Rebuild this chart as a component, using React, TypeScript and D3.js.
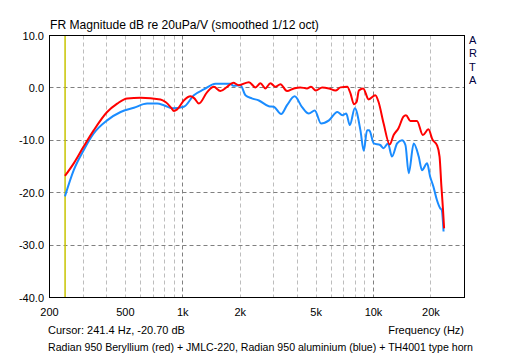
import React from "react";
import * as d3 from "d3";

const yTicks = [10, 0, -10, -20, -30, -40];
const xLabelFreqs = [200, 500, 1000, 2000, 5000, 10000, 20000];
const xLabelTexts = ["200", "500", "1k", "2k", "5k", "10k", "20k"];
const minorGrid = [300, 400, 500, 600, 700, 800, 900, 2000, 3000, 4000, 5000, 6000, 7000, 8000, 9000, 20000];
const majorGrid = [1000, 10000];
const hGrid = [0, -10, -20, -30];
const cursorFreq = 241.4;

const redFreq = [241, 268, 302, 341, 401, 453, 511, 600, 764, 812, 870, 898, 934, 1012, 1098, 1150, 1214, 1342, 1454, 1574, 1708, 1838, 1966, 2222, 2404, 2553, 2710, 2880, 3060, 3250, 3520, 3820, 4130, 4480, 4700, 4980, 5380, 5840, 6320, 6720, 7280, 7580, 7890, 8150, 8380, 8830, 9430, 10220, 10630, 11300, 12160, 12750, 13520, 14350, 14800, 15600, 16900, 18150, 19400, 20400, 21500, 22200, 22700, 23150, 23450];
const redDb = [-16.8, -14.4, -11.2, -8.1, -4.6, -3.0, -2.0, -1.9, -2.2, -2.7, -3.8, -4.4, -4.1, -2.4, -1.6, -2.0, -3.0, -0.8, 0.2, -0.6, 0.2, 1.0, 0.5, 1.1, 0.1, 0.9, -0.1, 0.9, 0.2, 0.7, -0.6, -0.1, 0.1, -0.1, 0.2, -0.5, 0.1, -0.1, -0.5, 0.1, 0.2, -1.1, -3.1, -2.7, -0.5, -0.1, -2.2, -1.4, -2.7, -6.8, -10.8, -9.0, -7.7, -5.5, -5.2, -6.3, -6.3, -9.0, -7.9, -9.9, -10.9, -13.1, -18.8, -23.3, -26.8];

const blueFreq = [241, 268, 302, 341, 401, 472, 554, 650, 734, 795, 880, 1012, 1143, 1288, 1484, 1778, 1838, 2007, 2130, 2300, 2506, 2825, 3000, 3280, 3520, 3860, 4210, 4580, 4920, 5310, 5840, 6460, 6860, 7200, 7510, 7980, 8540, 8890, 9250, 9500, 10040, 10840, 11300, 11900, 12500, 13300, 14100, 14700, 15300, 16250, 17260, 17960, 19100, 19800, 20600, 21500, 22400, 22800, 23300];
const blueDb = [-20.7, -15.7, -11.9, -8.7, -6.2, -4.6, -3.8, -3.0, -3.0, -3.3, -3.9, -3.6, -1.4, -0.3, 0.8, 0.8, 0.4, 0.5, -1.4, -2.0, -2.4, -3.5, -3.6, -5.0, -3.3, -1.6, -3.6, -4.9, -4.3, -6.8, -6.2, -4.6, -5.2, -4.9, -7.1, -3.9, -8.1, -12.0, -8.1, -8.1, -10.6, -10.9, -11.5, -10.6, -13.1, -10.6, -10.0, -10.9, -16.3, -10.6, -13.1, -15.7, -14.4, -16.9, -18.8, -21.4, -23.0, -23.3, -27.4];

const FONT = "'Liberation Sans', Arial, sans-serif";

export default function App() {
  const left = 49.5, right = 464.5, top = 35.5, bottom = 297.5;
  const x = d3.scaleLog().domain([200, 30000]).range([left, right]);
  const y = d3.scaleLinear().domain([-40, 10]).range([bottom, top]);
  const line = d3
    .line<[number, number]>()
    .x((d) => x(d[0]))
    .y((d) => y(d[1]))
    .curve(d3.curveMonotoneX);
  const red = redFreq.map((f, i) => [f, redDb[i]] as [number, number]);
  const blue = blueFreq.map((f, i) => [f, blueDb[i]] as [number, number]);
  const px = (v: number) => Math.round(v - 0.5) + 0.5;

  return (
    <svg width={512} height={358} style={{ position: "absolute", left: 0, top: 0, background: "#fff" }} fontFamily={FONT}>
      <rect x={0} y={0} width={512} height={358} fill="#fff" />
      <text x={50} y={29} fontSize={12.1} fill="#000">FR Magnitude dB re 20uPa/V (smoothed 1/12 oct)</text>
      {minorGrid.map((f) => (
        <line key={"mg" + f} x1={px(x(f))} x2={px(x(f))} y1={top} y2={bottom} stroke="#bdbdbd" strokeDasharray="4,3" />
      ))}
      {majorGrid.map((f) => (
        <line key={"Mg" + f} x1={px(x(f))} x2={px(x(f))} y1={top} y2={bottom} stroke="#808080" strokeDasharray="4,3" />
      ))}
      {hGrid.map((v) => (
        <line key={"h" + v} x1={left} x2={right} y1={px(y(v))} y2={px(y(v))} stroke="#808080" strokeDasharray="4,3" />
      ))}
      <line x1={x(cursorFreq)} x2={x(cursorFreq)} y1={top} y2={bottom} stroke="#c8c400" strokeWidth={1.5} />
      <path d={line(blue) || ""} fill="none" stroke="#1a8cff" strokeWidth={2} />
      <path d={line(red) || ""} fill="none" stroke="#ff0000" strokeWidth={2} />
      <rect x={left} y={top} width={right - left} height={bottom - top} fill="none" stroke="#000" strokeWidth={1} />
      {yTicks.map((v) => (
        <text key={"yt" + v} x={44} y={y(v) + 4} fontSize={11} textAnchor="end" fill="#000">
          {v.toFixed(1)}
        </text>
      ))}
      {xLabelFreqs.map((f, i) => (
        <text key={"xt" + f} x={x(f)} y={316} fontSize={11} textAnchor="middle" fill="#000">
          {xLabelTexts[i]}
        </text>
      ))}
      {["A", "R", "T", "A"].map((c, i) => (
        <text key={"arta" + i} x={469} y={44 + i * 13.3} fontSize={11} fill="#000040">
          {c}
        </text>
      ))}
      <text x={48} y={334} fontSize={11} fill="#000">Cursor: 241.4 Hz, -20.70 dB</text>
      <text x={464} y={334} fontSize={11} textAnchor="end" fill="#000">Frequency (Hz)</text>
      <text x={48} y={351} fontSize={10.6} fill="#000">Radian 950 Beryllium (red) + JMLC-220, Radian 950 aluminium (blue) + TH4001 type horn</text>
    </svg>
  );
}
